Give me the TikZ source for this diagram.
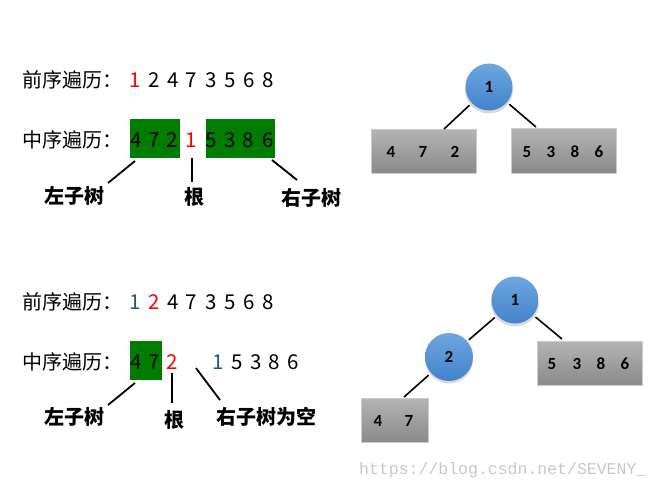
\documentclass[tikz,border=0pt]{standalone}
\usepackage{fontspec}
\setmainfont{Noto Sans CJK SC}
\newfontfamily\numfont{Carlito}
\newfontfamily\wmfont{Liberation Mono}
\definecolor{grn}{HTML}{007C00}
\definecolor{redd}{HTML}{FF0000}
\definecolor{slate}{HTML}{2C5282}
\definecolor{ctop}{HTML}{6EA6DF}
\definecolor{cbot}{HTML}{4283CA}
\definecolor{rtop}{HTML}{B4B4B4}
\definecolor{rbot}{HTML}{8A8A8A}
\tikzset{
  lbl/.style={font=\fontsize{20}{22}\selectfont, inner sep=0pt, anchor=west},
  dig/.style={font=\fontsize{20.5}{22}\selectfont, inner sep=0pt, anchor=center},
  tag/.style={font=\fontsize{20}{22}\selectfont\bfseries, inner sep=0pt},
  gbox/.style={fill=grn, draw=none},
  lnk/.style={line width=1.8pt, black},
  tnode/.style={circle, minimum size=47pt, inner sep=0pt, draw=none,
    font=\numfont\bfseries\fontsize{17}{18}\selectfont},
  ball/.style={top color=ctop, bottom color=cbot, draw=none},
  shad/.style={fill=black, fill opacity=0.15, draw=none},
  tbox/.style={draw=rtop!70!white, line width=0.6pt, top color=rtop, bottom color=rbot, inner sep=0pt},
  tnum/.style={font=\numfont\bfseries\fontsize{17}{18}\selectfont, inner sep=0pt},
  tedge/.style={line width=1.6pt, black, shorten <=3pt}
}
\begin{document}
\begin{tikzpicture}[x=1pt,y=-1pt]
\useasboundingbox (0,0) rectangle (660,490);

% ===== top part =====
\node[lbl] (pre1) at (22,80) {前序遍历：};
\foreach \d/\x/\c [count=\i] in {1/135/redd,2/154/black,4/173/black,7/191/black,3/211/black,5/230/black,6/249/black,8/268/black}
  \node[dig, text=\c] (pa\i) at (\x,80) {\d};

\fill[gbox] (130,119) rectangle (180,158);
\fill[gbox] (206,119) rectangle (275,158);
\node[lbl] (in1) at (22,140) {中序遍历：};
\foreach \d/\x/\c [count=\i] in {4/136/black,7/154/black,2/172/black,1/191/redd,5/211/black,3/230/black,8/248/black,6/268/black}
  \node[dig, text=\c] (ia\i) at (\x,140) {\d};

\coordinate (a1s) at (135,161); \coordinate (a1e) at (108,183);
\coordinate (a2s) at (192,158); \coordinate (a2e) at (192,182);
\coordinate (a3s) at (272,160); \coordinate (a3e) at (297,180);
\draw[lnk] (a1s) -- (a1e);
\draw[lnk] (a2s) -- (a2e);
\draw[lnk] (a3s) -- (a3e);
\node[tag] (lt1) at (74,196) {左子树};
\node[tag] (rt1) at (194,197) {根};
\node[tag] (rs1) at (311,198) {右子树};

% top tree
\fill[shad] (489,89.5) circle[radius=24];
\shade[ball] (489,87) circle[radius=23.5];
\node[tnode] (t1) at (489,87) {1};
\node[tbox, minimum width=105pt, minimum height=44pt] (tl) at (423.5,151) {};
\node[tbox, minimum width=105pt, minimum height=45pt] (tr) at (563.5,150.5) {};
\node[tnum] (tl1) at (391,152) {4};
\node[tnum] (tl2) at (423,152) {7};
\node[tnum] (tl3) at (455,152) {2};
\node[tnum] (tr1) at (527,152) {5};
\node[tnum] (tr2) at (551,152) {3};
\node[tnum] (tr3) at (575,152) {8};
\node[tnum] (tr4) at (599,152) {6};
\coordinate (tlt) at (444,129);
\coordinate (trt) at (536,127);
\draw[tedge] (t1) -- (tlt);
\draw[tedge] (t1) -- (trt);

% ===== bottom part =====
\node[lbl] (pre2) at (22,302) {前序遍历：};
\foreach \d/\x/\c [count=\i] in {1/135/slate,2/154/redd,4/173/black,7/191/black,3/211/black,5/230/black,6/249/black,8/268/black}
  \node[dig, text=\c] (pb\i) at (\x,302) {\d};

\fill[gbox] (130,341) rectangle (162,380);
\node[lbl] (in2) at (22,362) {中序遍历：};
\foreach \d/\x/\c [count=\i] in {4/136/black,7/154/black,2/172/redd,1/218/slate,5/237/black,3/256/black,8/274/black,6/293/black}
  \node[dig, text=\c] (ib\i) at (\x,362) {\d};

\coordinate (b1s) at (135,383); \coordinate (b1e) at (108,405);
\coordinate (b2s) at (172,373); \coordinate (b2e) at (172,403);
\coordinate (b3s) at (196,368); \coordinate (b3e) at (220,400);
\draw[lnk] (b1s) -- (b1e);
\draw[lnk] (b2s) -- (b2e);
\draw[lnk] (b3s) -- (b3e);
\node[tag] (lt2) at (74,417) {左子树};
\node[tag] (rt2) at (174,420) {根};
\node[tag] (rs2) at (266,417) {右子树为空};

% bottom tree
\fill[shad] (515,302.5) circle[radius=24];
\fill[shad] (449,359.5) circle[radius=24];
\shade[ball] (515,300) circle[radius=23.5];
\shade[ball] (449,357) circle[radius=24];
\node[tnode] (u1) at (515,300) {1};
\node[tnode, minimum size=48pt] (u2) at (449,357) {2};
\node[tbox, minimum width=105pt, minimum height=44pt] (ur) at (589.5,363) {};
\node[tbox, minimum width=67pt, minimum height=44pt] (ul) at (394.5,420) {};
\node[tnum] (ur1) at (552,364) {5};
\node[tnum] (ur2) at (577,364) {3};
\node[tnum] (ur3) at (601,364) {8};
\node[tnum] (ur4) at (625,364) {6};
\node[tnum] (ul1) at (378,421) {4};
\node[tnum] (ul2) at (409,421) {7};
\coordinate (urt) at (562,339);
\coordinate (ult) at (404,397);
\draw[tedge, shorten >=2pt] (u1) -- (u2);
\draw[tedge] (u1) -- (urt);
\draw[tedge] (u2) -- (ult);

% watermark
\node[font=\wmfont\fontsize{16.5}{18}\selectfont, text=black!22, inner sep=0pt, anchor=west] (wm) at (359,470) {https://blog.csdn.net/SEVENY\_};
\end{tikzpicture}
\end{document}
